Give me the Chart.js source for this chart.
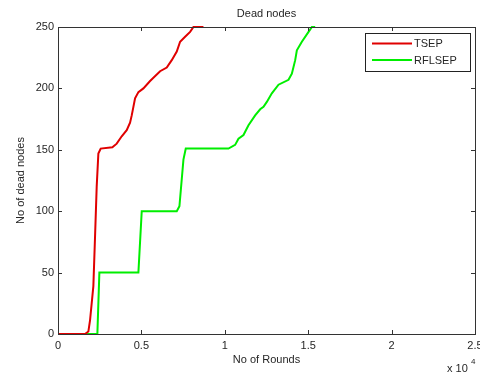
<!DOCTYPE html>
<html>
<head>
<meta charset="utf-8">
<script src="https://cdn.jsdelivr.net/npm/chart.js@4.4.0/dist/chart.umd.min.js"></script>
<style>
html,body{margin:0;padding:0;background:#fff;}
#wrap{width:480px;height:375px;}
</style>
</head>
<body>
<div id="wrap"><canvas id="c" width="480" height="375"></canvas></div>
<script>
const chartTitle = 'Dead nodes';
const seriesNames = ['TSEP', 'RFLSEP'];
const tsepRounds = [0, 1620, 1820, 1920, 2120, 2220, 2320, 2420, 2560, 3260, 3520, 3820, 4120, 4320, 4420, 4520, 4620, 4820, 5120, 5520, 6120, 6520, 6820, 7120, 7320, 7620, 7920, 8120, 8720];
const tsepDead   = [0, 0,    2,    11,   39,   79,   120,  147,  151,  152,  155,  161,  166,  172,  178,  185,  192,  197,  200,  206,  214,  217,  223,  230,  238,  242,  246,  250,  250];
const rflRounds = [0, 2360, 2480, 4820, 5020, 7120, 7280, 7520, 7660, 10220, 10620, 10820, 11120, 11420, 11820, 12120, 12320, 12520, 12820, 13220, 13820, 14020, 14220, 14320, 14620, 15020, 15220, 15420];
const rflDead   = [0, 0,    50,   50,   100,  100,  104,  142,  151,  151,   154,   159,   162,   170,   178,   183,   185,   189,   196,   203,   207,   212,   223,   231,   238,   246,   250,   250];
const xTicks = [0, 5000, 10000, 15000, 20000, 25000];
const yTicks = [0, 50, 100, 150, 200, 250];
const colors = ['#e00000', '#00ee00'];

const FONT = 'Liberation Sans, Arial, sans-serif';
const TXT = '#262626';

function pts(xs, ys){ return xs.map((x,i)=>({x:x, y:ys[i]})); }

const boxPlugin = {
  id:'boxPlugin',
  afterDraw(chart){
    const {ctx, chartArea:a, scales:{x, y}} = chart;
    ctx.save();
    ctx.strokeStyle = '#333';
    ctx.lineWidth = 1;
    ctx.strokeRect(Math.round(a.left)+0.5, Math.round(a.top)+0.5, Math.round(a.right-a.left), Math.round(a.bottom-a.top));
    ctx.beginPath();
    const tl = 4;
    xTicks.forEach(v=>{
      const px = Math.round(x.getPixelForValue(v))+0.5;
      ctx.moveTo(px, a.bottom); ctx.lineTo(px, a.bottom-tl);
      ctx.moveTo(px, a.top); ctx.lineTo(px, a.top+tl);
    });
    yTicks.forEach(v=>{
      const py = Math.round(y.getPixelForValue(v))+0.5;
      ctx.moveTo(a.left, py); ctx.lineTo(a.left+tl, py);
      ctx.moveTo(a.right, py); ctx.lineTo(a.right-tl, py);
    });
    ctx.stroke();
    // title
    ctx.fillStyle = TXT;
    ctx.font = '11px '+FONT;
    ctx.textAlign = 'center';
    ctx.textBaseline = 'middle';
    ctx.fillText(chartTitle, (a.left+a.right)/2, 14);
    ctx.textAlign = 'left';
    // legend
    const lx=365.5, ly=33.5, lw=105, lh=38;
    ctx.fillStyle='#fff';
    ctx.fillRect(lx,ly,lw,lh);
    ctx.strokeStyle='#222';
    ctx.strokeRect(lx,ly,lw,lh);
    ctx.font = '11px '+FONT;
    ctx.textBaseline='middle';
    const rows=[43.5, 60];
    chart.data.datasets.forEach((ds,i)=>{
      ctx.strokeStyle = ds.borderColor;
      ctx.lineWidth = 2;
      ctx.beginPath(); ctx.moveTo(372, rows[i]); ctx.lineTo(412, rows[i]); ctx.stroke();
      ctx.fillStyle = TXT;
      ctx.fillText(ds.label, 414, rows[i]+0.5);
    });
    // exponent
    ctx.fillStyle = TXT;
    ctx.font = '11px '+FONT;
    ctx.textBaseline='alphabetic';
    ctx.fillText('x 10', 447, 372);
    ctx.font = '8px '+FONT;
    ctx.fillText('4', 471, 364);
    ctx.restore();
  }
};

new Chart(document.getElementById('c'), {
  type:'line',
  data:{
    datasets:[
      {label:seriesNames[0], data:pts(tsepRounds, tsepDead), borderColor:colors[0], borderWidth:2, pointRadius:0, tension:0, fill:false, clip:3},
      {label:seriesNames[1], data:pts(rflRounds, rflDead), borderColor:colors[1], borderWidth:2, pointRadius:0, tension:0, fill:false, clip:3}
    ]
  },
  options:{
    responsive:false,
    animation:false,
    layout:{padding:{left:0,right:5,top:27,bottom:0}},
    plugins:{
      legend:{display:false},
      tooltip:{enabled:false},
      title:{display:false}
    },
    scales:{
      x:{
        type:'linear', min:0, max:25000,
        grid:{display:false, drawTicks:false},
        border:{display:false},
        afterBuildTicks(s){ s.ticks = xTicks.map(v=>({value:v})); },
        ticks:{color:TXT, font:{family:FONT, size:11}, padding:5, maxRotation:0, callback:v=>String(v/10000)},
        title:{display:true, text:'No of Rounds', color:TXT, font:{family:FONT, size:11}, padding:{top:0,bottom:8.4}},
        afterFit(s){ s.height = 41; s.paddingLeft = 0; s.paddingRight = 0; }
      },
      y:{
        type:'linear', min:0, max:250,
        grid:{display:false, drawTicks:false},
        border:{display:false},
        afterBuildTicks(s){ s.ticks = yTicks.map(v=>({value:v})); },
        ticks:{color:TXT, font:{family:FONT, size:11}, padding:4},
        title:{display:true, text:'No of dead nodes', color:TXT, font:{family:FONT, size:11}, padding:{top:14.4,bottom:0}},
        afterFit(s){ s.width = 58; s.paddingTop = 0; s.paddingBottom = 0; }
      }
    }
  },
  plugins:[boxPlugin]
});
</script>
</body>
</html>
